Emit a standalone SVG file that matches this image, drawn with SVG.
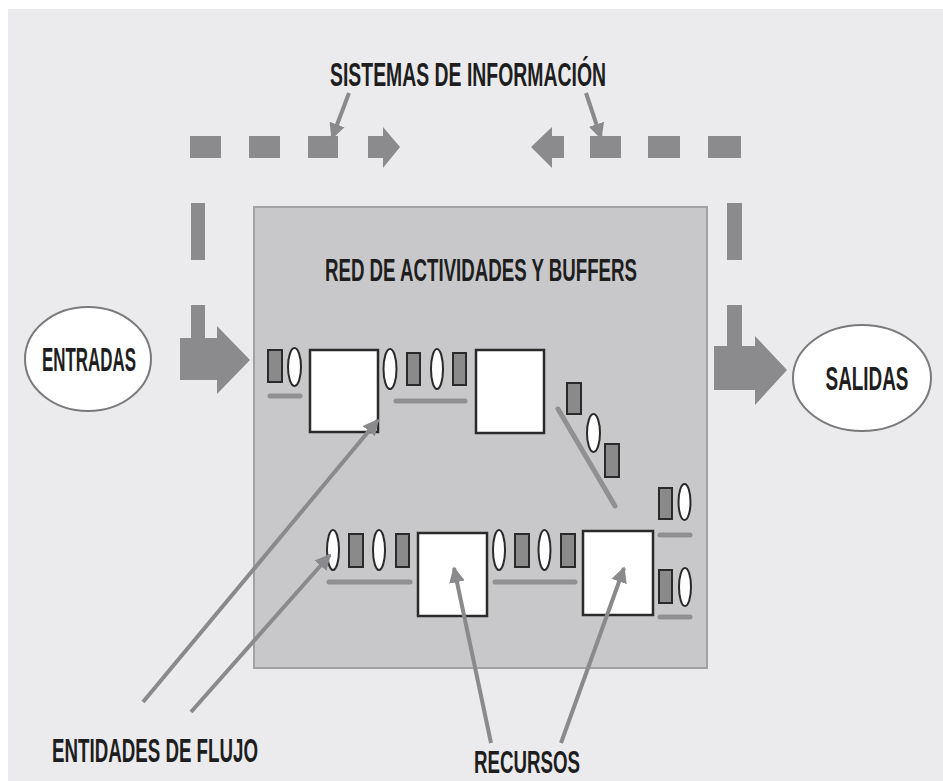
<svg xmlns="http://www.w3.org/2000/svg" width="943" height="781" viewBox="0 0 943 781">
<defs>
<style>
.lbl{font-family:"Liberation Sans Narrow","Liberation Sans",Arial,sans-serif;font-weight:bold;fill:#1e1e1e;text-anchor:middle;}
.dash{fill:#8b8b8d;}
.tok{fill:#8a8a8a;stroke:#2a2a2a;stroke-width:2;}
.ell{fill:#ffffff;stroke:#2a2a2a;stroke-width:2;}
.box{fill:#ffffff;stroke:#2a2a2a;stroke-width:2.5;}
.flow{stroke:#909092;stroke-width:5;stroke-linecap:round;fill:none;}
.ptr{stroke:#8a8a8c;stroke-width:4;fill:none;}
</style>
<marker id="ah" viewBox="0 0 10 10" refX="9" refY="5" markerWidth="4" markerHeight="5" orient="auto" markerUnits="strokeWidth">
<path d="M0,0 L10,5 L0,10 z" fill="#8a8a8c"/>
</marker>
</defs>
<rect x="0" y="0" width="943" height="781" fill="#ffffff"/>
<rect x="8" y="9" width="935" height="772" fill="#ebebed"/>

<g id="red">
<rect x="254" y="207" width="453" height="461" fill="#c8c8ca" stroke="#a2a2a4" stroke-width="2"/>
<text class="lbl" x="481" y="281" font-size="32" textLength="312" lengthAdjust="spacingAndGlyphs">RED DE ACTIVIDADES Y BUFFERS</text>
</g>

<g id="sistemas">
<text class="lbl" x="468" y="86" font-size="34" textLength="276" lengthAdjust="spacingAndGlyphs">SISTEMAS DE INFORMACIÓN</text>
<rect class="dash" x="190" y="136" width="31" height="22"/>
<rect class="dash" x="249" y="136" width="31" height="22"/>
<rect class="dash" x="308" y="136" width="30" height="22"/>
<polygon class="dash" points="368,136 383,136 383,127 400,147 383,168 383,158 368,158"/>
<polygon class="dash" points="564,136 552,136 552,127 531,147 552,168 552,158 564,158"/>
<rect class="dash" x="590" y="136" width="31" height="22"/>
<rect class="dash" x="648" y="136" width="32" height="22"/>
<rect class="dash" x="708" y="136" width="33" height="22"/>
<rect class="dash" x="191" y="203" width="14" height="57"/>
<rect class="dash" x="727" y="203" width="15" height="57"/>
</g>

<g id="entradas">
<ellipse cx="88" cy="359" rx="63" ry="52" fill="#ffffff" stroke="#7a7a7c" stroke-width="2"/>
<text class="lbl" x="89" y="371" font-size="33" textLength="94" lengthAdjust="spacingAndGlyphs">ENTRADAS</text>
</g>
<g id="flecha-entrada">
<polygon class="dash" points="191,305 205,305 205,338 217,338 217,326 250,360 217,394 217,380 180,380 180,338 191,338"/>
</g>

<g id="salidas">
<ellipse cx="862" cy="378" rx="69" ry="53" fill="#ffffff" stroke="#7a7a7c" stroke-width="2"/>
<text class="lbl" x="0" y="0" font-size="33" transform="translate(867,390) scale(0.573,1)">SALIDAS</text>
</g>
<g id="flecha-salida">
<polygon class="dash" points="727,305 742,305 742,346 755,346 755,336 787,370 755,405 755,390 714,390 714,346 727,346"/>
</g>

<g id="actividad1"><rect class="box" x="310" y="350" width="68" height="82"/></g>
<g id="actividad2"><rect class="box" x="476" y="350" width="68" height="83"/></g>
<g id="actividad3"><rect class="box" x="418" y="533" width="69" height="83"/></g>
<g id="actividad4"><rect class="box" x="583" y="531" width="70" height="84"/></g>

<g id="buffers">
<rect class="tok" x="268" y="350" width="14" height="32"/>
<ellipse class="ell" cx="294.5" cy="367" rx="6.5" ry="19"/>
<ellipse class="ell" cx="390" cy="369" rx="6.5" ry="20"/>
<rect class="tok" x="407" y="353" width="13" height="32"/>
<ellipse class="ell" cx="437" cy="369" rx="6" ry="20"/>
<rect class="tok" x="453" y="353" width="13" height="32"/>
<rect class="tok" x="567" y="383" width="14" height="31"/>
<ellipse class="ell" cx="593.5" cy="433" rx="6.5" ry="19"/>
<rect class="tok" x="605" y="444" width="14" height="33"/>
<rect class="tok" x="659" y="488" width="13" height="31"/>
<ellipse class="ell" cx="684.5" cy="502" rx="6" ry="18"/>
<ellipse class="ell" cx="333" cy="550" rx="6" ry="20"/>
<rect class="tok" x="349" y="534" width="14" height="33"/>
<ellipse class="ell" cx="379" cy="550" rx="6" ry="20"/>
<rect class="tok" x="396" y="534" width="13" height="33"/>
<ellipse class="ell" cx="499" cy="550" rx="6" ry="20"/>
<rect class="tok" x="515" y="534" width="14" height="33"/>
<ellipse class="ell" cx="544.5" cy="550" rx="6" ry="20"/>
<rect class="tok" x="561" y="534" width="14" height="33"/>
<rect class="tok" x="659" y="570" width="13" height="33"/>
<ellipse class="ell" cx="685" cy="587" rx="6" ry="19"/>
</g>

<g id="entidades-de-flujo">
<text class="lbl" x="155" y="762" font-size="33" textLength="206" lengthAdjust="spacingAndGlyphs">ENTIDADES DE FLUJO</text>
</g>
<g id="recursos">
<text class="lbl" x="0" y="0" font-size="31" transform="translate(527,773) scale(0.604,1)">RECURSOS</text>
</g>

<g id="connectors">
<line class="flow" x1="270" y1="396" x2="300" y2="396"/>
<line class="flow" x1="396" y1="401" x2="465" y2="401"/>
<line class="flow" x1="558" y1="409" x2="615" y2="506"/>
<line class="flow" x1="329" y1="582" x2="410" y2="582"/>
<line class="flow" x1="495" y1="582" x2="575" y2="582"/>
<line class="flow" x1="660" y1="535" x2="690" y2="535"/>
<line class="flow" x1="660" y1="617" x2="690" y2="617"/>
<line class="ptr" x1="349" y1="93" x2="332" y2="138" marker-end="url(#ah)"/>
<line class="ptr" x1="586" y1="93" x2="601" y2="138" marker-end="url(#ah)"/>
<line class="ptr" x1="143" y1="702" x2="378" y2="420" marker-end="url(#ah)"/>
<line class="ptr" x1="191" y1="712" x2="330" y2="555" marker-end="url(#ah)"/>
<line class="ptr" x1="491" y1="743" x2="454" y2="568" marker-end="url(#ah)"/>
<line class="ptr" x1="561" y1="743" x2="624" y2="568" marker-end="url(#ah)"/>
</g>
</svg>
